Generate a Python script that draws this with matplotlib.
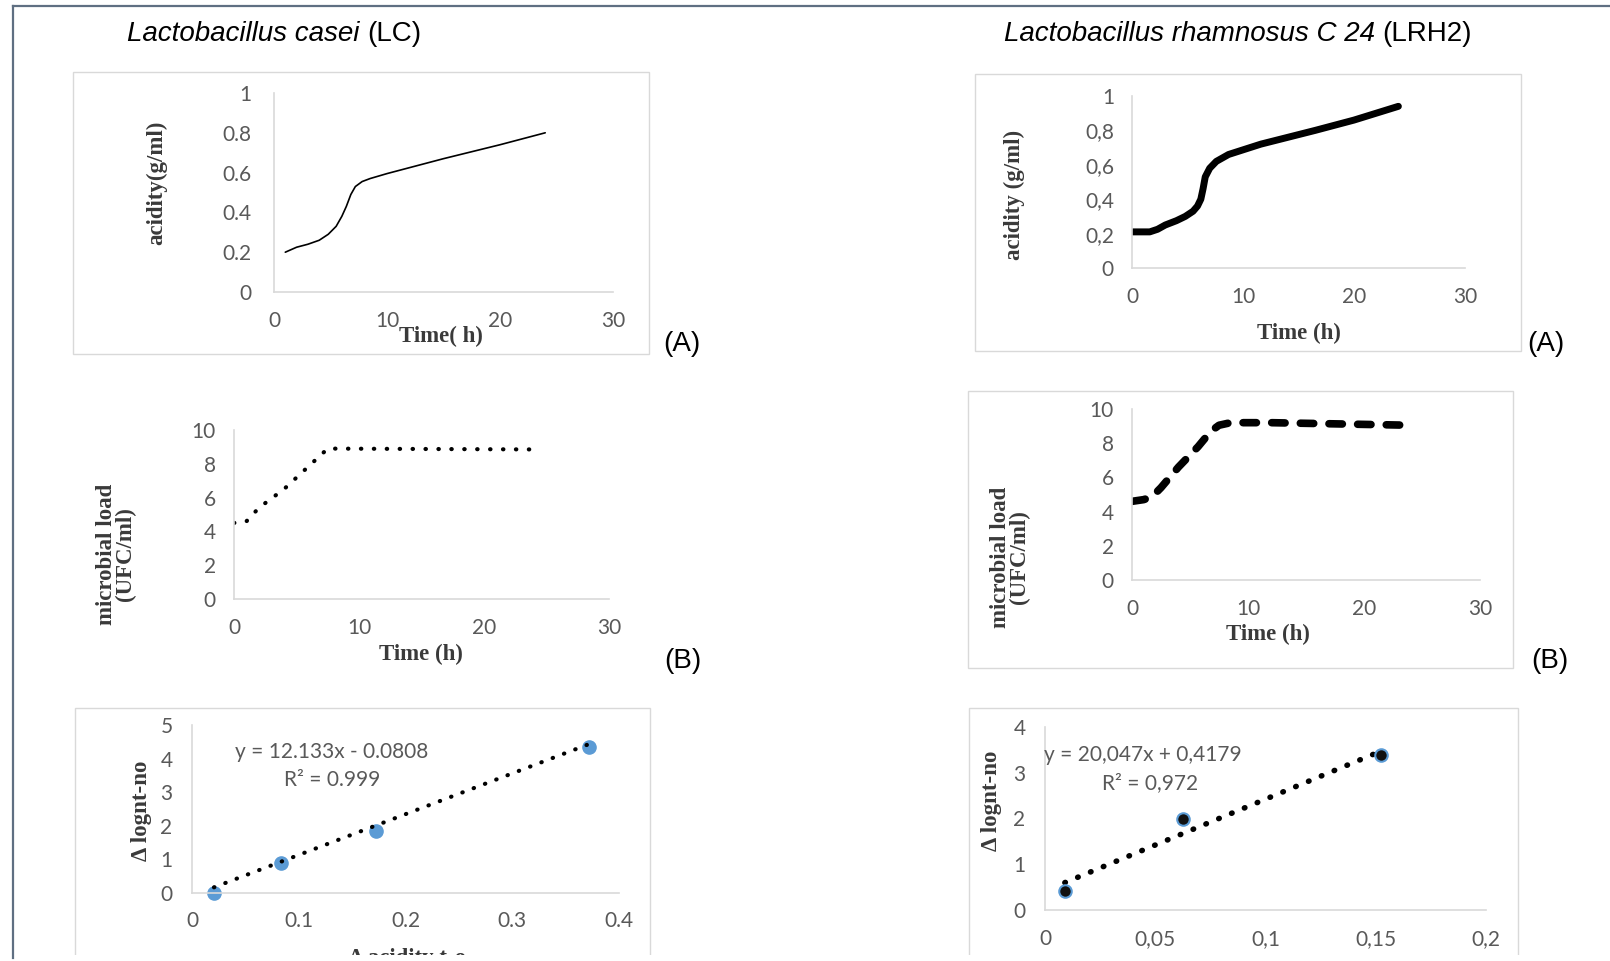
import numpy as np
import matplotlib
matplotlib.use("Agg")
import matplotlib.pyplot as plt
from matplotlib.patches import Rectangle
from matplotlib.lines import Line2D
from matplotlib.ticker import FuncFormatter

# ---------------------------------------------------------
# Data

# Lactobacillus casei (LC): acidity vs time
lc_acid_t = [1, 2, 3, 4, 4.8, 5.5, 6.0, 6.4, 6.8, 7.2, 7.8, 8.5, 10, 15, 20, 24]
lc_acid_y = [0.20, 0.225, 0.24, 0.26, 0.29, 0.33, 0.38, 0.43, 0.49, 0.53, 0.555,
             0.57, 0.595, 0.67, 0.74, 0.80]

# Lactobacillus rhamnosus C 24 (LRH2): acidity vs time
lrh_acid_t = [0, 1.6, 2.3, 3.0, 4.0, 4.8, 5.5, 5.9, 6.2, 6.4, 6.6, 7.0, 7.6,
              8.7, 11.6, 16.5, 20, 24]
lrh_acid_y = [0.21, 0.21, 0.225, 0.25, 0.275, 0.30, 0.33, 0.36, 0.40, 0.46,
              0.53, 0.58, 0.62, 0.66, 0.72, 0.80, 0.86, 0.94]

# microbial load vs time
lc_load_t = [0, 1, 2, 4, 7.5, 24]
lc_load_y = [4.5, 4.6, 5.4, 6.5, 8.9, 8.85]

lrh_load_t = [0, 1, 1.7, 2.5, 4, 5.7, 6.8, 7.5, 8.5, 12, 16, 20, 24]
lrh_load_y = [4.6, 4.7, 4.85, 5.4, 6.6, 7.8, 8.7, 9.05, 9.2, 9.2, 9.15, 9.1, 9.05]

# delta log vs delta acidity + linear trend
lc_dacid = [0.0206, 0.0838, 0.1727, 0.3715]
lc_dlog = [0.0, 0.88, 1.84, 4.35]
lc_fit = (12.133, -0.0808)

lrh_dacid = [0.009, 0.0625, 0.1523]
lrh_dlog = [0.42, 1.98, 3.39]
lrh_fit = (20.047, 0.4179)

titles = ["Lactobacillus casei", "Lactobacillus rhamnosus C 24"]
title_tags = ["(LC)", "(LRH2)"]

# ---------------------------------------------------------
W, H = 1610, 961
fig = plt.figure(figsize=(W / 100, H / 100), dpi=100)
fig.patch.set_facecolor("white")

TICK = "#595959"
LABEL = "#3a3a3a"
SPINE = "#d9d9d9"
BLUE = "#5b9bd5"
TICKFONT = "Lato"
SERIF = "Liberation Serif"
TSIZE = 15      # tick labels
LSIZE = 16.5    # axis titles
BIG = 20        # panel titles and (A)/(B)


def fx(x):
    return x / W


def fy(y):
    return 1 - y / H


def add_ax(x0, x1, ytop, ybot):
    ax = fig.add_axes([fx(x0), fy(ybot), (x1 - x0) / W, (ybot - ytop) / H])
    ax.set_facecolor("none")
    for s in ["top", "right"]:
        ax.spines[s].set_visible(False)
    for s in ["left", "bottom"]:
        ax.spines[s].set_color(SPINE)
        ax.spines[s].set_linewidth(1.2)
    ax.tick_params(length=0, labelcolor=TICK, labelsize=TSIZE)
    return ax


def style_ticks(ax, xpad, ypad):
    ax.tick_params(axis="x", pad=xpad)
    ax.tick_params(axis="y", pad=ypad)
    for lab in ax.get_xticklabels() + ax.get_yticklabels():
        lab.set_family(TICKFONT)


def box(x0, y0, x1, y1):
    fig.add_artist(Rectangle((fx(x0), fy(y1)), (x1 - x0) / W, (y1 - y0) / H,
                             transform=fig.transFigure, fill=False,
                             edgecolor=SPINE, linewidth=1.0, zorder=0))


def ftext(x, y, s, **kw):
    fig.text(fx(x), fy(y), s, **kw)


def axis_label(x, y, s, rot=0, **kw):
    ftext(x, y, s, rotation=rot, ha="center", va="center", fontsize=LSIZE,
          fontweight="bold", family=SERIF, color=LABEL, **kw)


comma = FuncFormatter(lambda v, p: ("%g" % v).replace(".", ","))

# frames around the charts
box(73, 72, 649, 354)
box(975, 74, 1521, 351)
box(968, 391, 1513, 668)
box(75, 708, 650, 990)
box(969, 708, 1518, 990)

# titles: italic species name followed by upright strain tag
renderer = fig.canvas.get_renderer()
for cx, name, tag in [(274, titles[0], title_tags[0]), (1238, titles[1], title_tags[1])]:
    t = fig.text(0, fy(34), name + " ", ha="right", va="center",
                 fontsize=BIG, style="italic", family="Liberation Sans")
    t2 = fig.text(0, fy(34), tag, ha="left", va="center", fontsize=BIG,
                  family="Liberation Sans")
    w_all = t.get_window_extent(renderer=renderer).width
    w_tag = t2.get_window_extent(renderer=renderer).width
    left = cx - (w_all + w_tag) / 2
    t.set_position((fx(left + w_all), fy(34)))
    t2.set_position((fx(left + w_all), fy(34)))

# ---- (A) LC acidity
ax = add_ax(274, 613, 93, 292)
ax.plot(lc_acid_t, lc_acid_y, color="black", lw=1.2, solid_capstyle="round")
ax.set_xlim(0, 30)
ax.set_ylim(0, 1)
ax.set_xticks([0, 10, 20, 30])
ax.set_yticks([0, 0.2, 0.4, 0.6, 0.8, 1])
ax.yaxis.set_major_formatter(FuncFormatter(lambda v, p: "%g" % v))
style_ticks(ax, 14, 16)
axis_label(157, 183, "acidity(g/ml)", rot=90)
axis_label(441, 336, "Time( h)")
ftext(682, 344, "(A)", ha="center", va="center", fontsize=BIG, family="Liberation Sans")

# ---- (A) LRH2 acidity
ax = add_ax(1132, 1465, 96, 268)
ax.plot(lrh_acid_t, lrh_acid_y, color="black", lw=5, solid_capstyle="round",
        solid_joinstyle="round")
ax.set_xlim(0, 30)
ax.set_ylim(0, 1)
ax.set_xticks([0, 10, 20, 30])
ax.set_yticks([0, 0.2, 0.4, 0.6, 0.8, 1])
ax.yaxis.set_major_formatter(comma)
style_ticks(ax, 14, 13)
axis_label(1014, 195, "acidity (g/ml)", rot=90)
axis_label(1299, 333, "Time (h)")
ftext(1546, 344, "(A)", ha="center", va="center", fontsize=BIG, family="Liberation Sans")

# ---- (B) LC microbial load
ax = add_ax(234, 609, 430, 599)
ax.plot(lc_load_t, lc_load_y, color="black", lw=3, linestyle=(0, (0.1, 3.0)),
        dash_capstyle="round")
ax.set_xlim(0, 30)
ax.set_ylim(0, 10)
ax.set_xticks([0, 10, 20, 30])
ax.set_yticks([0, 2, 4, 6, 8, 10])
style_ticks(ax, 14, 13)
axis_label(116, 554, "microbial load\n(UFC/ml)", rot=90, linespacing=0.9)
axis_label(421, 654, "Time (h)")
ftext(683, 661, "(B)", ha="center", va="center", fontsize=BIG, family="Liberation Sans")

# ---- (B) LRH2 microbial load
ax = add_ax(1132, 1480, 409, 580)
ax.plot(lrh_load_t, lrh_load_y, color="black", lw=5.5, linestyle=(0, (1.75, 2.0)),
        dash_capstyle="round")
ax.set_xlim(0, 30)
ax.set_ylim(0, 10)
ax.set_xticks([0, 10, 20, 30])
ax.set_yticks([0, 2, 4, 6, 8, 10])
style_ticks(ax, 14, 13)
axis_label(1010, 557, "microbial load\n(UFC/ml)", rot=90, linespacing=0.9)
axis_label(1268, 634, "Time (h)")
ftext(1550, 661, "(B)", ha="center", va="center", fontsize=BIG, family="Liberation Sans")

# ---- (C) LC delta log vs delta acidity
ax = add_ax(192, 619, 725, 893)
xs = np.array([lc_dacid[0], lc_dacid[-1]])
ax.plot(xs, lc_fit[0] * xs + lc_fit[1], color="black", lw=3,
        linestyle=(0, (0.1, 2.8)), dash_capstyle="round", zorder=3)
ax.plot(lc_dacid, lc_dlog, "o", color=BLUE, ms=9.5, zorder=2, clip_on=False)
ax.set_xlim(0, 0.4)
ax.set_ylim(0, 5)
ax.set_xticks([0, 0.1, 0.2, 0.3, 0.4])
ax.set_yticks([0, 1, 2, 3, 4, 5])
ax.xaxis.set_major_formatter(FuncFormatter(lambda v, p: "%g" % v))
style_ticks(ax, 13, 14)
ftext(332, 752, "y = 12.133x - 0.0808", ha="center", va="center", fontsize=TSIZE,
      family=TICKFONT, color=TICK)
ftext(332, 780, "R² = 0.999", ha="center", va="center", fontsize=TSIZE,
      family=TICKFONT, color=TICK)
axis_label(141, 811, "Δ lognt-no", rot=90)
# x title, cut by the lower edge of the source image
ftext(408, 948, "Δ acidity t-o", ha="center", va="top", fontsize=LSIZE,
      fontweight="bold", family=SERIF, color=LABEL)

# ---- (C) LRH2 delta log vs delta acidity
ax = add_ax(1045, 1486, 727, 910)
xs = np.array([lrh_dacid[0], lrh_dacid[-1]])
ax.plot(xs, lrh_fit[0] * xs + lrh_fit[1], color="black", lw=4,
        linestyle=(0, (0.1, 2.4)), dash_capstyle="round", zorder=2)
ax.plot(lrh_dacid, lrh_dlog, "o", markerfacecolor="#111111", markeredgecolor=BLUE,
        markeredgewidth=1.5, ms=9, zorder=3, clip_on=False)
ax.set_xlim(0, 0.2)
ax.set_ylim(0, 4)
ax.set_xticks([0, 0.05, 0.1, 0.15, 0.2])
ax.set_yticks([0, 1, 2, 3, 4])
ax.xaxis.set_major_formatter(comma)
style_ticks(ax, 14, 14)
ftext(1143, 755, "y = 20,047x + 0,4179", ha="center", va="center", fontsize=TSIZE,
      family=TICKFONT, color=TICK)
ftext(1150, 783, "R² = 0,972", ha="center", va="center", fontsize=TSIZE,
      family=TICKFONT, color=TICK)
axis_label(991, 801, "Δ lognt-no", rot=90)

# the source image is cut at the bottom
fig.add_artist(Rectangle((0, 0), 1, 6 / H, transform=fig.transFigure,
                         facecolor="white", edgecolor="none", zorder=50))

# outer frame (left and top edges)
fig.add_artist(Line2D([fx(13), fx(13)], [fy(958), fy(6)], transform=fig.transFigure,
                      color="#5f6f82", lw=1.6, zorder=60))
fig.add_artist(Line2D([fx(13), 1], [fy(6), fy(6)], transform=fig.transFigure,
                      color="#5f6f82", lw=1.6, zorder=60))

fig.savefig("out.png", dpi=100, facecolor="white")
